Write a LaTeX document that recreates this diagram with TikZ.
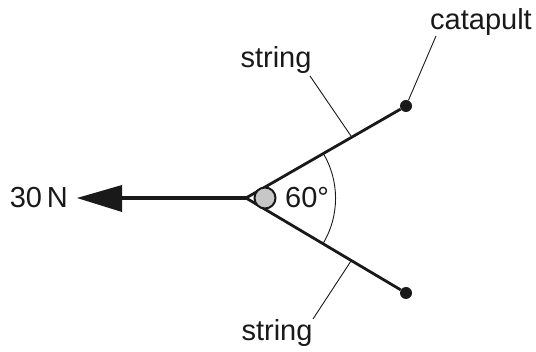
\documentclass[tikz,border=0pt]{standalone}
\usepackage{fontspec}
\setmainfont{Liberation Sans}
\begin{document}
\begin{tikzpicture}[x=1pt,y=-1pt,
  lbl/.style={inner sep=0pt,font=\fontsize{29}{34}\selectfont,text=black!90},
  stringline/.style={line width=2.8pt,black!90},
  leader/.style={line width=0.9pt,black!90},
  dotpt/.style={circle,fill=black!90,inner sep=0pt,minimum size=12pt}]
\useasboundingbox (0,0) rectangle (536,352);
\coordinate (c) at (246,198);
\node[dotpt] (top) at (406,106) {};
\node[dotpt] (bot) at (406,293) {};
\coordinate (tail) at (122,198);
\draw[stringline] (c) -- (top);
\draw[stringline] (c) -- (bot);
\draw[line width=4.8pt,black!90] (c) -- (tail);
\fill[black!90] (77,198) -- (122,185) -- (122,212) -- cycle;
\node[circle,draw=black!90,line width=2pt,fill=black!22,minimum size=21pt,inner sep=0pt] (ball) at (265,198) {};
\draw[leader] (323,153) arc[start angle=-31,end angle=31,radius=88];
\node[lbl,anchor=west] (sixty) at (285,198) {60\textdegree};
\node[lbl,anchor=east] (force) at (68,198) {30\,N};
\node[lbl] (cat) at (481,22) {catapult};
\node[lbl] (s1) at (276,60) {string};
\node[lbl] (s2) at (277,333) {string};
\coordinate (m1) at (351,136);
\coordinate (m2) at (351,261);
\coordinate (e0) at (436,36);
\coordinate (e1) at (310,76);
\coordinate (e2) at (313,319);
\draw[leader] (e0) -- (top);
\draw[leader] (e1) -- (m1);
\draw[leader] (e2) -- (m2);
\end{tikzpicture}
\end{document}
